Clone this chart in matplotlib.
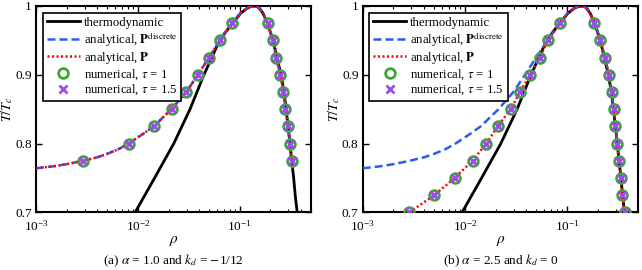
import matplotlib
matplotlib.use("Agg")
import matplotlib.pyplot as plt

plt.rcParams['font.family'] = ['Liberation Serif', 'DejaVu Serif']
plt.rcParams['mathtext.fontset'] = 'stix'
plt.rcParams['font.size'] = 9.5

# thermodynamic coexistence curve (same in both panels)
thermo_T = [0.70, 0.75, 0.80, 0.85, 0.90, 0.94, 0.96, 0.975, 0.99, 0.997, 0.999, 1.0,
            0.999, 0.997, 0.99, 0.975, 0.95, 0.925, 0.90, 0.875, 0.85, 0.825, 0.80, 0.775, 0.75, 0.725, 0.70]
thermo_rho = [0.0094, 0.0146, 0.0225, 0.0325, 0.0445, 0.059, 0.071, 0.085, 0.103, 0.119, 0.128, 0.14,
              0.149, 0.155, 0.168, 0.187, 0.212, 0.232, 0.254, 0.272, 0.285, 0.298, 0.311, 0.323, 0.338, 0.35, 0.366]

# analytical curve, panel (a)  (P and P^discrete coincide)
ana_a_rho = [0.001, 0.0015, 0.002, 0.0029, 0.004, 0.005, 0.0065, 0.0081, 0.011, 0.0143, 0.0214, 0.0299,
             0.0388, 0.0499, 0.0635, 0.0834, 0.102, 0.118, 0.127, 0.14,
             0.149, 0.155, 0.168, 0.187, 0.212, 0.228, 0.25, 0.268, 0.282, 0.298, 0.311, 0.324, 0.33]
ana_a_T = [0.764, 0.767, 0.770, 0.775, 0.780, 0.785, 0.792, 0.800, 0.813, 0.825, 0.850, 0.875,
           0.900, 0.925, 0.950, 0.975, 0.990, 0.997, 0.999, 1.0,
           0.999, 0.997, 0.99, 0.975, 0.95, 0.925, 0.90, 0.875, 0.85, 0.825, 0.80, 0.775, 0.764]

# numerical points, panel (a)
num_a_T = [0.775, 0.80, 0.825, 0.85, 0.875, 0.90, 0.925, 0.95, 0.975,
           0.975, 0.95, 0.925, 0.90, 0.875, 0.85, 0.825, 0.80, 0.775]
num_a_rho = [0.0029, 0.0081, 0.0143, 0.0214, 0.0299, 0.0388, 0.0499, 0.0635, 0.0834,
             0.1875, 0.213, 0.226, 0.25, 0.267, 0.281, 0.299, 0.311, 0.325]

# panel (b): P^discrete
disc_b_rho = [0.001, 0.0015, 0.002, 0.0029, 0.004, 0.005, 0.0065, 0.0081, 0.011, 0.0143, 0.0214, 0.0299,
              0.0388, 0.0499, 0.0645, 0.0845, 0.102, 0.118, 0.127, 0.14,
              0.149, 0.155, 0.168, 0.185, 0.212, 0.236, 0.257, 0.275, 0.287, 0.298, 0.312, 0.322, 0.33]
disc_b_T = [0.764, 0.767, 0.770, 0.775, 0.780, 0.785, 0.792, 0.800, 0.813, 0.825, 0.850, 0.875,
            0.900, 0.925, 0.950, 0.975, 0.990, 0.997, 0.999, 1.0,
            0.999, 0.997, 0.99, 0.975, 0.95, 0.925, 0.90, 0.875, 0.85, 0.825, 0.80, 0.775, 0.764]

# panel (b): P
p_b_rho = [0.00287, 0.00502, 0.00796, 0.0119, 0.0162, 0.021, 0.0281, 0.0347, 0.0435, 0.0542, 0.0653, 0.0851,
           0.103, 0.119, 0.128, 0.14,
           0.149, 0.155, 0.168, 0.185, 0.212, 0.236, 0.257, 0.275, 0.287, 0.298, 0.312, 0.322, 0.339, 0.349, 0.368]
p_b_T = [0.70, 0.725, 0.75, 0.775, 0.80, 0.825, 0.85, 0.875, 0.90, 0.925, 0.95, 0.975,
         0.99, 0.997, 0.999, 1.0,
         0.999, 0.997, 0.99, 0.975, 0.95, 0.925, 0.90, 0.875, 0.85, 0.825, 0.80, 0.775, 0.75, 0.725, 0.70]

# numerical points, panel (b)
num_b_T = [0.70, 0.725, 0.75, 0.775, 0.80, 0.825, 0.85, 0.875, 0.90, 0.925, 0.95, 0.975,
           0.975, 0.95, 0.925, 0.90, 0.875, 0.85, 0.825, 0.80, 0.775, 0.75, 0.725, 0.70]
num_b_rho = [0.00287, 0.00502, 0.00796, 0.0119, 0.0162, 0.021, 0.0281, 0.0347, 0.0435, 0.0542, 0.0653, 0.0851,
             0.185, 0.212, 0.236, 0.257, 0.275, 0.287, 0.298, 0.312, 0.322, 0.339, 0.349, 0.368]

captions = [r"(a) $\alpha$ = 1.0 and $k_d$ = $-$1/12", r"(b) $\alpha$ = 2.5 and $k_d$ = 0"]

BLUE = '#2a5cf5'
GREEN = '#3aa832'
PURPLE = '#9a4ee6'

fig = plt.figure(figsize=(6.42, 2.70), dpi=100)
ax_a = fig.add_axes([0.0561, 0.2137, 0.4283, 0.7641])
ax_b = fig.add_axes([0.565, 0.2137, 0.4293, 0.7641])

panels = [
    (ax_a, ana_a_rho, ana_a_T, ana_a_rho, ana_a_T, num_a_rho, num_a_T),
    (ax_b, disc_b_rho, disc_b_T, p_b_rho, p_b_T, num_b_rho, num_b_T),
]

for i, (ax, drho, dT, prho, pT, nrho, nT) in enumerate(panels):
    ax.plot(thermo_rho, thermo_T, color='k', lw=2, label='thermodynamic', zorder=2)
    ax.plot(drho, dT, color=BLUE, lw=1.8, ls=(0, (3.2, 1.6)),
            label=r'analytical, $\mathbf{P}^{\mathrm{discrete}}$', zorder=3)
    ax.plot(prho, pT, color='red', lw=1.8, ls=(0, (0.8, 1.0)),
            label=r'analytical, $\mathbf{P}$', zorder=4)
    ax.plot(nrho, nT, ls='none', marker='o', ms=7, mfc='none', mec=GREEN, mew=2,
            label=r'numerical, $\tau$ = 1', zorder=5)
    ax.plot(nrho, nT, ls='none', marker='x', ms=6, mec=PURPLE, mew=2,
            label=r'numerical, $\tau$ = 1.5', zorder=6)

    ax.set_xscale('log')
    ax.set_xlim(1e-3, 0.5)
    ax.set_ylim(0.7, 1.0)
    ax.set_yticks([0.7, 0.8, 0.9, 1.0])
    ax.set_yticklabels(['0.7', '0.8', '0.9', '1'])
    ax.tick_params(which='both', direction='in', top=True, right=True, labelsize=9.5)
    ax.tick_params(axis='y', pad=3)
    ax.tick_params(axis='x', pad=5)
    ax.tick_params(which='major', length=4, width=1)
    ax.tick_params(which='minor', length=2, width=0.8)
    for sp in ax.spines.values():
        sp.set_linewidth(1.5)
    ax.set_xlabel(r'$\rho$', fontsize=11, labelpad=0)
    ax.set_ylabel(r'$T/T_c$', fontsize=10, labelpad=0)

    leg = ax.legend(loc='upper left', bbox_to_anchor=(0.015, 0.98), numpoints=1,
                    fancybox=False, edgecolor='k', framealpha=1, fontsize=9.2,
                    handlelength=2.6, handletextpad=0.3, borderpad=0.3,
                    labelspacing=0.1, borderaxespad=0.2)
    leg.get_frame().set_linewidth(1.2)

    ax.text(0.5, -0.195, captions[i], transform=ax.transAxes, ha='center', va='top', fontsize=9.5)

plt.savefig("out.png", dpi=100)
